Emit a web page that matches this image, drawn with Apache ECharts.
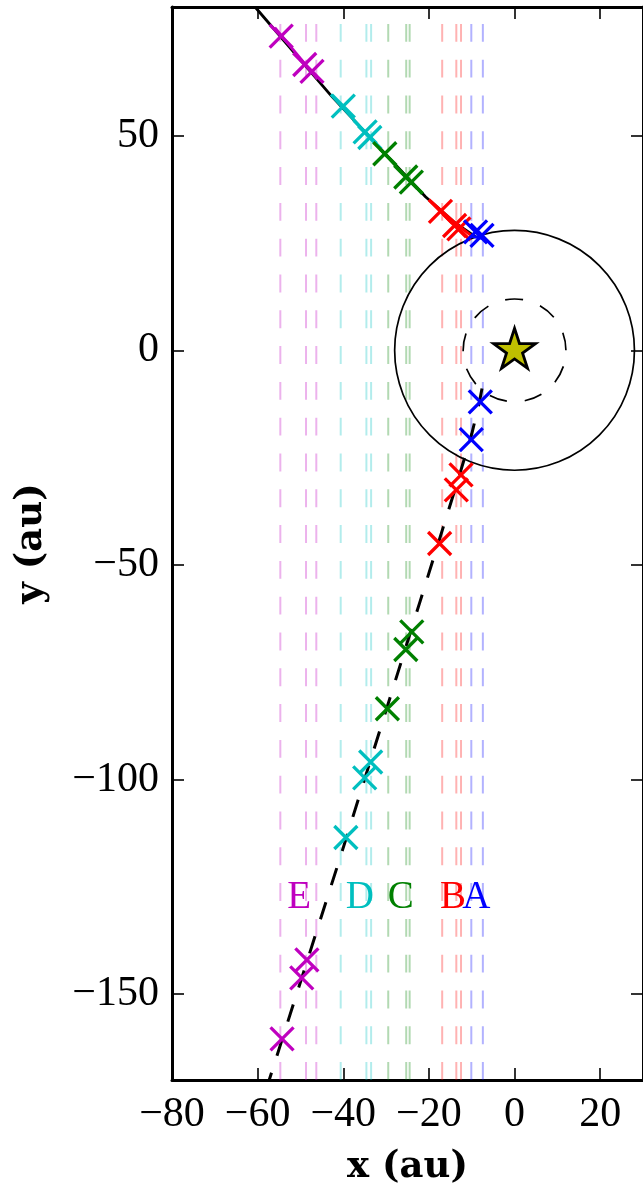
<!DOCTYPE html>
<html>
<head>
<meta charset="utf-8">
<script src="https://cdn.jsdelivr.net/npm/echarts@6/dist/echarts.min.js"></script>
<style>
html,body{margin:0;padding:0;background:#fff;}
#c{width:643px;height:1191px;}
</style>
</head>
<body>
<div id="c"></div>
<script>
// ---- axes ----
const xTicks = [-80, -60, -40, -20, 0, 20];
const yTicks = [-150, -100, -50, 0, 50];
const xRange = [-80, 30];
const yRange = [-170, 80];

// ---- groups ----
const groupNames = ['E', 'D', 'C', 'B', 'A'];
const groupColors = ['#bf00bf', '#00bfbf', '#008000', '#ff0000', '#0000ff'];

// vertical guide x positions per group
const guideE = [-54.7, -48.7, -46.3];
const guideD = [-40.6, -34.6, -33.5];
const guideC = [-29.5, -25.3, -24.5];
const guideB = [-16.9, -13.6, -12.5];
const guideA = [-10.1, -7.4];

// observed positions (x, y) per group
const markE = [[-54.5, 73.2], [-49.0, 66.6], [-47.3, 65.0], [-48.5, -142.0], [-49.7, -146.2], [-54.3, -160.4]];
const markD = [[-40.0, 56.9], [-34.9, 50.9], [-33.8, 49.6], [-33.6, -95.9], [-35.0, -99.6], [-39.4, -113.5]];
const markC = [[-30.3, 45.8], [-25.4, 40.4], [-24.1, 39.2], [-24.0, -65.6], [-25.4, -69.7], [-29.7, -83.5]];
const markB = [[-17.3, 32.4], [-14.0, 29.1], [-13.0, 28.3], [-12.5, -29.0], [-13.6, -32.5], [-17.5, -45.0]];
const markA = [[-9.1, 27.6], [-7.6, 26.8], [-8.0, -12.0], [-10.1, -20.8]];

// coloured arcs on the front part of the orbit
const arcE = [[-56.0, 75.2], [-46.0, 63.2]];
const arcD = [[-42.9, 59.6], [-32.0, 47.6]];
const arcC = [[-31.5, 47.0], [-21.6, 36.5]];
const arcB = [[-20.0, 35.1], [-14.0, 29.8], [-9.8, 26.5]];
const arcA = [[-10.0, 26.6], [-7.5, 26.1]];

// orbit: front (solid) and behind (dashed)
const orbitFront = [[-60.6, 80], [-42.9, 59.4], [-30.0, 45.6], [-20.8, 35.8], [-14.0, 29.8], [-9.0, 26.4]];
const orbitBack = [[-7.6, -8.9], [-8.3, -12.5], [-10.0, -19.5], [-13.0, -29.5], [-22.0, -58.3], [-40.2, -116.5], [-57.3, -170]];

// circles around the star (radius in au)
const circleRadii = [28, 12];
const circleDashed = [false, true];
const starPos = [[0, 0]];

// group label positions
const labelX = [-50.3, -36.15, -26.6, -14.4, -8.9];
const labelY = -127.5;

const guides = [guideE, guideD, guideC, guideB, guideA];
const marks = [markE, markD, markC, markB, markA];
const arcs = [arcE, arcD, arcC, arcB, arcA];

const fmt = v => String(v).replace('-', '\u2212');
const tickFont = {fontFamily: 'Liberation Serif', fontSize: 42, color: '#000'};

const chart = echarts.init(document.getElementById('c'), null, {renderer: 'canvas'});

const guideData = [];
guides.forEach((g, gi) => g.forEach(x => guideData.push([x, gi])));

const series = [];
// vertical dashed guides
series.push({
  type: 'custom', xAxisIndex: 0, yAxisIndex: 0, clip: true, z: 1, silent: true,
  data: guideData,
  renderItem: (params, api) => {
    const x = api.value(0), gi = api.value(1);
    const p1 = api.coord([x, yRange[0]]), p2 = api.coord([x, yRange[1]]);
    return {type: 'line', shape: {x1: p1[0], y1: p1[1], x2: p2[0], y2: p2[1]},
      style: {stroke: groupColors[gi], lineWidth: 2, lineDash: [17.9, 17.9], opacity: 0.3}};
  }
});
// circles
series.push({
  type: 'custom', xAxisIndex: 0, yAxisIndex: 0, clip: true, z: 3, silent: true,
  data: circleRadii.map((r, i) => [0, 0, r, circleDashed[i] ? 1 : 0]),
  renderItem: (params, api) => {
    const c = api.coord([api.value(0), api.value(1)]);
    const r = api.size([api.value(2), 0])[0];
    return {type: 'arc', shape: {cx: c[0], cy: c[1], r: r, startAngle: 0, endAngle: -Math.PI * 2, clockwise: false},
      style: {stroke: '#000', fill: null, lineWidth: 1.7, lineDash: api.value(3) ? [18, 18] : null}};
  }
});
// orbit lines
series.push({type: 'line', data: orbitFront, showSymbol: false, silent: true, z: 4, clip: true,
  lineStyle: {color: '#000', width: 2.8}});
series.push({type: 'line', data: orbitBack, showSymbol: false, silent: true, z: 4, clip: true,
  lineStyle: {color: '#000', width: 3, type: [17.9, 17.9]}});
// coloured arcs
arcs.forEach((a, gi) => series.push({type: 'line', data: a, showSymbol: false, silent: true, z: 5,
  lineStyle: {color: groupColors[gi], width: 3}}));
// markers
marks.forEach((m, gi) => series.push({type: 'scatter', data: m, silent: true, z: 6,
  symbol: 'path://M0,0L10,10M10,0L0,10', symbolSize: 23,
  itemStyle: {color: 'none', borderColor: groupColors[gi], borderWidth: 3.3, opacity: 1}}));
// star
series.push({type: 'scatter', data: starPos, silent: true, z: 8,
  symbol: 'path://M50,0L61.23,34.55L97.55,34.55L68.16,55.9L79.39,90.45L50,69.1L20.61,90.45L31.84,55.9L2.45,34.55L38.77,34.55Z',
  symbolSize: [42, 40], symbolOffset: [0, -2],
  itemStyle: {color: '#bfbf00', borderColor: '#000', borderWidth: 2.8, opacity: 1}});
// group labels
series.push({
  type: 'custom', xAxisIndex: 0, yAxisIndex: 0, clip: false, z: 7, silent: true,
  data: labelX.map((x, i) => [x, labelY, i]),
  renderItem: (params, api) => {
    const p = api.coord([api.value(0), api.value(1)]);
    const i = api.value(2);
    return {type: 'text', x: p[0], y: p[1],
      style: {text: groupNames[i], fill: groupColors[i], font: '39px "Liberation Serif"', align: 'center', verticalAlign: 'middle'}};
  }
});

const axisLine = {show: true, onZero: false, lineStyle: {color: '#000', width: 3}};
const option = {
  animation: false,
  backgroundColor: '#fff',
  grid: {left: 172, top: 7, width: 473, height: 1073, containLabel: false},
  xAxis: [
    {type: 'value', position: 'bottom', min: xRange[0], max: xRange[1],
      axisLine: axisLine, splitLine: {show: false},
      axisTick: {show: true, inside: true, length: 12, customValues: xTicks, lineStyle: {color: '#000', width: 1.6}},
      axisLabel: {show: true, customValues: xTicks, formatter: fmt, margin: 14, ...tickFont},
      name: 'x (au)', nameLocation: 'middle', nameGap: 69,
      nameTextStyle: {fontFamily: 'DejaVu Serif', fontWeight: 'bold', fontSize: 37, color: '#000'}},
    {type: 'value', position: 'top', min: xRange[0], max: xRange[1],
      axisLine: axisLine, splitLine: {show: false},
      axisTick: {show: true, inside: true, length: 12, customValues: xTicks, lineStyle: {color: '#000', width: 1.6}},
      axisLabel: {show: false}}
  ],
  yAxis: [
    {type: 'value', position: 'left', min: yRange[0], max: yRange[1],
      axisLine: axisLine, splitLine: {show: false},
      axisTick: {show: true, inside: true, length: 12, customValues: yTicks, lineStyle: {color: '#000', width: 1.6}},
      axisLabel: {show: true, customValues: yTicks, formatter: fmt, margin: 13, ...tickFont},
      name: 'y (au)', nameLocation: 'middle', nameGap: 122,
      nameTextStyle: {fontFamily: 'DejaVu Serif', fontWeight: 'bold', fontSize: 37, color: '#000'}},
    {type: 'value', position: 'right', min: yRange[0], max: yRange[1],
      axisLine: axisLine, splitLine: {show: false},
      axisTick: {show: true, inside: true, length: 12, customValues: yTicks, lineStyle: {color: '#000', width: 1.6}},
      axisLabel: {show: false}}
  ],
  series: series
};
chart.setOption(option);
</script>
</body>
</html>
